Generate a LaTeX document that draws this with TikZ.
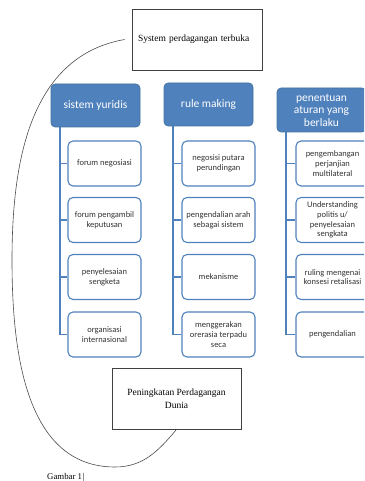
\documentclass[tikz,border=0pt]{standalone}
\usepackage{fontspec}
\setmainfont{Liberation Serif}
\newfontfamily\calib{Carlito}
\usetikzlibrary{backgrounds}
\definecolor{hdr}{HTML}{4F81BD}
\definecolor{hdrb}{HTML}{41719C}
\begin{document}
\begin{tikzpicture}[x=1pt,y=1pt,
 hdrbox/.style={rectangle, rounded corners=4pt, fill=hdr, draw=hdrb, line width=0.6pt,
   minimum width=89pt, minimum height=43pt, text=white,
   font=\calib\fontsize{11.5}{12.5}\selectfont, align=center, inner sep=1pt},
 kidbox/.style={rectangle, rounded corners=5pt, fill=white, draw=hdr, line width=1.1pt,
   minimum width=73pt, minimum height=45pt, text=black!80,
   font=\calib\fontsize{8.5}{9.7}\selectfont, align=center, inner sep=1pt},
 link/.style={draw=hdr, line width=1.6pt},
 plainbox/.style={rectangle, draw=black!75, line width=0.8pt, fill=white,
   font=\fontsize{9.5}{13}\selectfont},
 arc/.style={draw=black!70, line width=0.6pt}
]
\useasboundingbox (0,0) rectangle (364,-481);
\clip (0,0) rectangle (364,-481);

% top and bottom boxes
\node[plainbox, minimum width=130pt, minimum height=61pt, text width=118pt,
      align=left, inner xsep=6pt] (top) at (197,-39.5) {System perdagangan terbuka};
\node[plainbox, minimum width=129pt, minimum height=61pt, align=center] (bot) at (176.5,-398.5)
      {Peningkatan Perdagangan\\Dunia};

% headers
\node[hdrbox] (h1) at (95.5,-105.5) {sistem yuridis};
\node[hdrbox] (h2) at (208.5,-104.5) {rule making};
\node[hdrbox, minimum height=44pt] (h3) at (321.5,-110) {penentuan\\aturan yang\\berlaku};

% column 1
\node[kidbox] (a1) at (104.5,-163.5) {forum negosiasi};
\node[kidbox] (a2) at (104.5,-220) {forum pengambil\\keputusan};
\node[kidbox] (a3) at (104.5,-277) {penyelesaian\\sengketa};
\node[kidbox] (a4) at (104.5,-334.5) {organisasi\\internasional};

% column 2
\node[kidbox] (b1) at (218.5,-163.5) {negosisi putara\\perundingan};
\node[kidbox] (b2) at (218.5,-220) {pengendalian arah\\sebagai sistem};
\node[kidbox] (b3) at (218.5,-277) {mekanisme};
\node[kidbox] (b4) at (218.5,-334.5) {menggerakan\\orerasia terpadu\\seca};

% column 3
\node[kidbox] (c1) at (332.5,-163.5) {pengembangan\\perjanjian\\multilateral};
\node[kidbox] (c2) at (332.5,-220) {Understanding\\politis u/\\penyelesaian\\sengkata};
\node[kidbox] (c3) at (332.5,-277) {ruling mengenai\\konsesi retalisasi};
\node[kidbox] (c4) at (332.5,-334.5) {pengendalian};

% connectors
\begin{scope}[on background layer]
\foreach \h/\k in {h1/a1,h1/a2,h1/a3,h1/a4,h2/b1,h2/b2,h2/b3,h2/b4,h3/c1,h3/c2,h3/c3,h3/c4}
  \draw[link] ([xshift=9pt]\h.south west) |- (\k.west);

\coordinate (cs) at ([xshift=-7pt]top.west);
\draw[arc] (cs) to[out=190,in=90] (12,-260) to[out=270,in=180] (115,-467)
           to[out=0,in=230] (bot.south);
\end{scope}

\node[anchor=base west, font=\fontsize{8.8}{10}\selectfont, inner sep=0pt] (cap) at (47,-479)
  {Gambar 1\kern0.6pt|};
\end{tikzpicture}
\end{document}
